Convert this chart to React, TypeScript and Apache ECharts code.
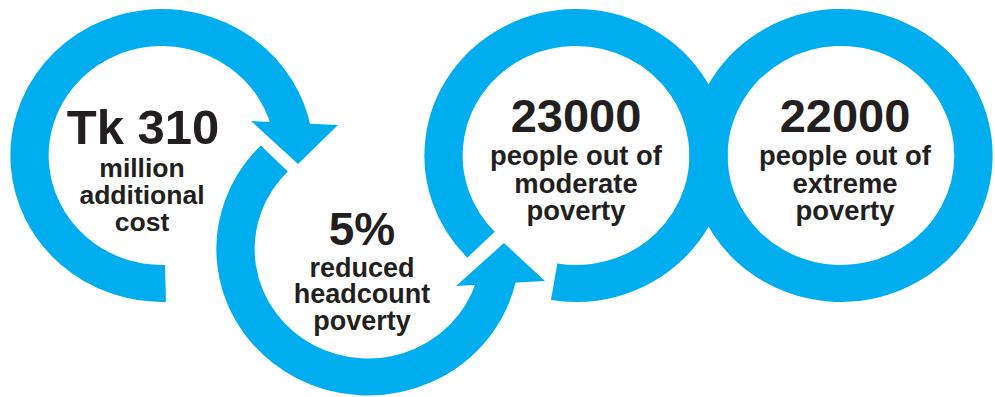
import React, { useEffect, useRef } from "react";
import * as echarts from "echarts";

// ---- content ----
const headlines: string[] = ["Tk 310", "5%", "23000", "22000"];
const captions: string[][] = [
  ["million", "additional", "cost"],
  ["reduced", "headcount", "poverty"],
  ["people out of", "moderate", "poverty"],
  ["people out of", "extreme", "poverty"],
];

const BLUE = "#00aeef";
const INK = "#231f20";
const FONT = "'Liberation Sans', Arial, Helvetica, sans-serif";
const deg = (d: number) => (d * Math.PI) / 180;
const CENTRAL = 0.3465; // central-baseline offset (em) for this font

// ring layout (decoration)
const RING_R = 128;
const RING_W = 37;
const SX = 1.035;
const rings = [
  { cx: 162, cy: 155.5, start: 88.5, end: 350, cw: true },
  { cx: 368, cy: 249, start: 225, end: 12, cw: false },
  { cx: 576, cy: 155.5, start: 135.8, end: 459.5, cw: true },
  { cx: 841, cy: 155.5, start: 0, end: 360, cw: true },
];
const arrowHeads = [
  [[251, 121], [338, 125], [298, 164]],
  [[456, 286], [545, 281], [504, 243]],
];
const textLayout = [
  { x: 143, headSize: 49, headBase: 144, capX: 142, capSize: 26.5, capBase: 177, lh: 27 },
  { x: 362, headSize: 46, headBase: 245, capX: 362, capSize: 27, capBase: 277, lh: 26.6 },
  { x: 576, headSize: 47, headBase: 132, capX: 576, capSize: 27.4, capBase: 165, lh: 27.5 },
  { x: 845, headSize: 47, headBase: 132, capX: 845, capSize: 27.4, capBase: 165, lh: 27.5 },
];

function buildElements() {
  const els: any[] = [];
  rings.forEach((r, i) => {
    const child =
      r.end - r.start >= 360
        ? {
            type: "circle",
            shape: { cx: 0, cy: 0, r: RING_R },
            style: { fill: "none", stroke: BLUE, lineWidth: RING_W },
          }
        : {
            type: "arc",
            shape: {
              cx: 0,
              cy: 0,
              r: RING_R,
              startAngle: deg(r.start),
              endAngle: deg(r.end),
              clockwise: r.cw,
            },
            style: { fill: "none", stroke: BLUE, lineWidth: RING_W, lineCap: "butt" },
          };
    els.push({
      type: "group",
      id: "ring" + i,
      x: r.cx,
      y: r.cy,
      scaleX: SX,
      children: [child],
    });
  });
  arrowHeads.forEach((pts, i) => {
    els.push({
      type: "polygon",
      id: "head" + i,
      shape: { points: pts },
      style: { fill: BLUE, stroke: "none" },
    });
  });
  headlines.forEach((h, i) => {
    const t = textLayout[i];
    els.push({
      type: "text",
      x: t.x,
      y: t.headBase - CENTRAL * t.headSize,
      style: {
        text: h,
        fill: INK,
        fontFamily: FONT,
        fontWeight: "bold",
        fontSize: t.headSize,
        lineHeight: t.headSize * 0.9,
        align: "center",
        verticalAlign: "middle",
      },
    });
    els.push({
      type: "text",
      x: t.capX,
      y: t.capBase - CENTRAL * t.capSize - t.lh / 2,
      style: {
        text: captions[i].join("\n"),
        fill: INK,
        fontFamily: FONT,
        fontWeight: "bold",
        fontSize: t.capSize,
        lineHeight: t.lh,
        align: "center",
        verticalAlign: "top",
      },
    });
  });
  return els;
}

export default function App() {
  const ref = useRef<HTMLDivElement>(null);
  useEffect(() => {
    if (!ref.current) return;
    const chart = echarts.init(ref.current, undefined, { renderer: "svg" });
    chart.setOption({
      animation: false,
      backgroundColor: "#ffffff",
      graphic: { elements: buildElements() },
    });
    return () => chart.dispose();
  }, []);
  return (
    <div
      ref={ref}
      style={{ position: "fixed", left: 0, top: 0, width: 995, height: 397, background: "#fff" }}
    />
  );
}
